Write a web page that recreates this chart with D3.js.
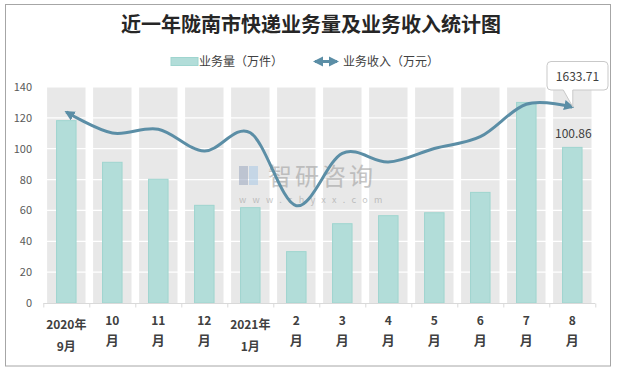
<!DOCTYPE html>
<html>
<head>
<meta charset="utf-8">
<script src="https://cdn.jsdelivr.net/npm/d3@7"></script>
<style>
  body { margin: 0; background: #fff; }
  svg text { font-family: "Microsoft YaHei", "Noto Sans CJK SC", "Noto Sans", sans-serif; }
</style>
</head>
<body>
<svg id="chart"></svg>
<script>
// categories (two text lines each, as wrapped in the original)
const months = [
  ["2020年", "9月"], ["10", "月"], ["11", "月"], ["12", "月"],
  ["2021年", "1月"], ["2", "月"], ["3", "月"], ["4", "月"],
  ["5", "月"], ["6", "月"], ["7", "月"], ["8", "月"]
];
// 业务量（万件）
const volume = [118.2, 91.2, 80.2, 63.3, 61.8, 33.3, 51.4, 56.6, 58.5, 71.7, 130.0, 100.86];
// 业务收入（万元）
const revenue = [1592, 1417, 1448, 1266, 1419, 811, 1247, 1175, 1288, 1386, 1656, 1633.71];
const yTicks = [0, 20, 40, 60, 80, 100, 120, 140];

const title = "近一年陇南市快递业务量及业务收入统计图";
const volName = "业务量（万件）";
const revName = "业务收入（万元）";

const width = 619, height = 370;
const margin = { top: 87, right: 23.7, bottom: 67, left: 43.3 };

const barColor = "#b2ddd9";
const barStroke = "#9fd5cf";
const lineColor = "#5b8ea6";
const bandColor = "#e8e8e8";
const textColor = "#404040";

const svg = d3.select("#chart")
  .attr("width", width)
  .attr("height", height);

// outer frame
svg.append("rect")
  .attr("x", 5.5).attr("y", 4.5)
  .attr("width", 605).attr("height", 361.5)
  .attr("fill", "#fff")
  .attr("stroke", "#a6a6a6");

// title
svg.append("text")
  .attr("x", 311).attr("y", 32)
  .attr("text-anchor", "middle")
  .attr("font-size", 20)
  .attr("font-weight", "bold")
  .attr("fill", "#262626")
  .text(title);

// scales
const keys = months.map(d => d.join(""));
const x = d3.scaleBand()
  .domain(keys)
  .range([margin.left, width - margin.right]);

const y = d3.scaleLinear()
  .domain([0, 140])
  .range([height - margin.bottom, margin.top]);
// hidden secondary axis for the revenue line
const y2 = d3.scaleLinear()
  .domain([0, 1800])
  .range(y.range());

// gray background columns
const bandPad = 3.8;
svg.append("g")
  .selectAll("rect")
  .data(keys)
  .join("rect")
  .attr("x", d => x(d) + bandPad)
  .attr("width", x.bandwidth() - bandPad * 2)
  .attr("y", y(140))
  .attr("height", y(0) - y(140))
  .attr("fill", bandColor);

// white gridlines
svg.append("g")
  .selectAll("line")
  .data(yTicks.slice(1))
  .join("line")
  .attr("x1", margin.left)
  .attr("x2", width - margin.right)
  .attr("y1", d => y(d))
  .attr("y2", d => y(d))
  .attr("stroke", "#fff")
  .attr("stroke-width", 1.2);

// watermark
const wm = svg.append("g").attr("opacity", 0.55);
wm.append("rect").attr("x", 239).attr("y", 166).attr("width", 9).attr("height", 19).attr("fill", "#9aa7c0");
wm.append("rect").attr("x", 249).attr("y", 166).attr("width", 9).attr("height", 19).attr("fill", "#a9c9e6");
wm.append("text")
  .attr("x", 268).attr("y", 185)
  .attr("font-size", 24)
  .attr("letter-spacing", 3)
  .attr("fill", "#9a9a9a")
  .text("智研咨询");
wm.append("text")
  .attr("x", 239).attr("y", 203)
  .attr("font-size", 9)
  .attr("letter-spacing", 6.3)
  .attr("fill", "#9a9a9a")
  .text("www.chyxx.com");

// teal bars
const barW = 19.5;
svg.append("g")
  .selectAll("rect")
  .data(volume)
  .join("rect")
  .attr("x", (d, i) => x(keys[i]) + x.bandwidth() / 2 - barW / 2)
  .attr("width", barW)
  .attr("y", d => y(d))
  .attr("height", d => y(0) - y(d))
  .attr("fill", barColor)
  .attr("stroke", barStroke)
  .attr("stroke-width", 1);

// x axis
const xAxis = svg.append("g")
  .attr("transform", `translate(0, ${y(0)})`);
xAxis.append("line")
  .attr("x1", margin.left).attr("x2", width - margin.right)
  .attr("y1", 0.5).attr("y2", 0.5)
  .attr("stroke", "#d9d9d9");
xAxis.selectAll("line.tick")
  .data(keys.concat(["end"]))
  .join("line")
  .attr("class", "tick")
  .attr("x1", (d, i) => margin.left + i * x.step() + 0.5)
  .attr("x2", (d, i) => margin.left + i * x.step() + 0.5)
  .attr("y1", 0.5).attr("y2", 4.5)
  .attr("stroke", "#d9d9d9");

const xl = svg.append("g")
  .selectAll("text")
  .data(months)
  .join("text")
  .attr("text-anchor", "middle")
  .attr("font-size", 12)
  .attr("font-weight", "bold")
  .attr("fill", textColor);
xl.each(function(d, i) {
  const cx = x(keys[i]) + x.bandwidth() / 2;
  const isYear = d[0].includes("年");
  const t = d3.select(this);
  t.append("tspan").attr("x", cx).attr("y", isYear ? 329 : 325).text(d[0]);
  t.append("tspan").attr("x", cx).attr("y", isYear ? 351 : 345)
    .attr("font-size", isYear ? 12 : 13).text(d[1]);
});

// y axis labels
svg.append("g")
  .selectAll("text")
  .data(yTicks)
  .join("text")
  .attr("x", 32)
  .attr("y", d => y(d) + 4)
  .attr("text-anchor", "end")
  .attr("font-size", 11)
  .attr("fill", "#595959")
  .text(d => d);

// arrow marker
const defs = svg.append("defs");
defs.append("marker")
  .attr("id", "arrow")
  .attr("viewBox", "0 0 10 10")
  .attr("refX", 8).attr("refY", 5)
  .attr("markerWidth", 3.4).attr("markerHeight", 3.4)
  .attr("markerUnits", "strokeWidth")
  .attr("orient", "auto-start-reverse")
  .append("path")
  .attr("d", "M0,0 L10,5 L0,10 z")
  .attr("fill", lineColor);

// revenue line
const line = d3.line()
  .x((d, i) => x(keys[i]) + x.bandwidth() / 2)
  .y(d => y2(d))
  .curve(d3.curveCardinal.tension(0));

svg.append("path")
  .datum(revenue)
  .attr("d", line)
  .attr("fill", "none")
  .attr("stroke", lineColor)
  .attr("stroke-width", 3)
  .attr("marker-start", "url(#arrow)")
  .attr("marker-end", "url(#arrow)");

// data label for last bar
const last = volume.length - 1;
const lastX = x(keys[last]) + x.bandwidth() / 2;
svg.append("text")
  .attr("x", lastX + 1)
  .attr("y", 138)
  .attr("text-anchor", "middle")
  .attr("font-size", 12)
  .attr("fill", textColor)
  .text(volume[last]);

// callout for last revenue point
const tipY = y2(revenue[last]);
const bx = 547, by = 61.5, bw = 61, bh = 28.5, r = 4;
svg.append("path")
  .attr("d", `M${bx + r},${by} H${bx + bw - r} Q${bx + bw},${by} ${bx + bw},${by + r}
    V${by + bh - r} Q${bx + bw},${by + bh} ${bx + bw - r},${by + bh}
    H${lastX + 0.5} L${lastX + 0.5},${tipY} L${lastX - 9},${by + bh}
    H${bx + r} Q${bx},${by + bh} ${bx},${by + bh - r}
    V${by + r} Q${bx},${by} ${bx + r},${by} Z`)
  .attr("fill", "#fff")
  .attr("stroke", "#c9c9c9");
svg.append("text")
  .attr("x", bx + bw / 2)
  .attr("y", by + 19)
  .attr("text-anchor", "middle")
  .attr("font-size", 12)
  .attr("fill", textColor)
  .text(revenue[last].toFixed(2));

// legend
const lg = svg.append("g");
lg.append("rect")
  .attr("x", 171).attr("y", 57.5)
  .attr("width", 27).attr("height", 8)
  .attr("fill", barColor).attr("stroke", barStroke);
lg.append("text")
  .attr("x", 199).attr("y", 66)
  .attr("font-size", 12).attr("fill", textColor)
  .text(volName);
lg.append("line")
  .attr("x1", 315).attr("x2", 337)
  .attr("y1", 61.5).attr("y2", 61.5)
  .attr("stroke", lineColor).attr("stroke-width", 3)
  .attr("marker-start", "url(#arrow)")
  .attr("marker-end", "url(#arrow)");
lg.append("text")
  .attr("x", 343).attr("y", 66)
  .attr("font-size", 12).attr("fill", textColor)
  .text(revName);
</script>
</body>
</html>
